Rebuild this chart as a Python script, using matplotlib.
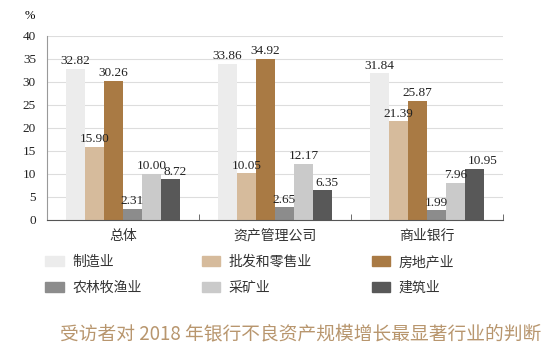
import numpy as np
import matplotlib.pyplot as plt
from matplotlib.patches import Patch

# =========================================================
# 数据
# =========================================================
groups = ["总体", "资产管理公司", "商业银行"]
industries = ["制造业", "批发和零售业", "房地产业", "农林牧渔业", "采矿业", "建筑业"]

manufacturing = [32.82, 33.86, 31.84]
wholesale_retail = [15.90, 10.05, 21.39]
real_estate = [30.26, 34.92, 25.87]
agriculture = [2.31, 2.65, 1.99]
mining = [10.00, 12.17, 7.96]
construction = [8.72, 6.35, 10.95]

series = [manufacturing, wholesale_retail, real_estate, agriculture, mining, construction]
colors = ["#ececec", "#d6bb9c", "#a97a44", "#8c8c8c", "#cacaca", "#585858"]

title = "受访者对 2018 年银行不良资产规模增长最显著行业的判断"

SERIF = ["Liberation Serif", "Noto Sans CJK SC"]
CJK = ["Noto Sans CJK SC", "DejaVu Sans"]

# =========================================================
# 画图
# =========================================================
fig = plt.figure(figsize=(5.5, 3.46), dpi=100)
ax = fig.add_axes([0.0855, 0.3656, 0.829, 0.5304])

x = np.arange(len(groups))
bar_w = 0.125
handles = []
for i, (vals, color, name) in enumerate(zip(series, colors, industries)):
    pos = x + (i - 2.5) * bar_w
    ax.bar(pos, vals, width=bar_w, color=color, zorder=2)
    for px, v in zip(pos, vals):
        # 建筑业的标签在原图中偏右
        if i == 5:
            ax.text(px - bar_w * 0.35, v + 0.4, f"{v:.2f}", ha="left", va="bottom",
                    fontsize=9.5, family=SERIF, color="#222222", zorder=3)
        else:
            ax.text(px, v + 0.4, f"{v:.2f}", ha="center", va="bottom",
                    fontsize=9.5, family=SERIF, color="#222222", zorder=3)
    handles.append(Patch(color=color, label=name))

ax.set_xlim(-0.5, 2.5)
ax.set_ylim(0, 40)
ax.set_yticks(range(0, 41, 5))
ax.set_yticklabels([str(t) for t in range(0, 41, 5)], family=SERIF, fontsize=9.5)
ax.set_xticks(x)
ax.set_xticklabels(groups, family=CJK, fontsize=10, color="#333333")
ax.set_xticks([0.5, 1.5, 2.5], minor=True)
ax.tick_params(axis="x", which="major", length=0, pad=7)
ax.tick_params(axis="x", which="minor", direction="in", length=4, color="#555555")
ax.tick_params(axis="y", length=0, pad=8, colors="#222222")

ax.grid(axis="y", color="#dddddd", linewidth=0.8, zorder=0)
ax.set_axisbelow(True)
for s in ["top", "right"]:
    ax.spines[s].set_visible(False)
ax.spines["left"].set_color("#999999")
ax.spines["bottom"].set_color("#555555")

fig.text(0.055, 0.955, "%", fontsize=9, family=SERIF, ha="center", va="center")

# 图例：按行排列（matplotlib 按列填充，所以重新排序）
order = [0, 3, 1, 4, 2, 5]
leg = fig.legend([handles[i] for i in order], [industries[i] for i in order],
                 ncol=3, loc="upper left", bbox_to_anchor=(0.07, 0.283),
                 frameon=False, prop={"family": CJK, "size": 10},
                 handlelength=1.3, handleheight=0.7, handletextpad=0.65,
                 columnspacing=4.3, labelspacing=0.85, borderpad=0)
for t in leg.get_texts():
    t.set_color("#333333")

fig.text(0.985, 0.035, title, fontsize=13.5, family=CJK, color="#b8966e",
         ha="right", va="center")

fig.savefig("out.png", dpi=100)
